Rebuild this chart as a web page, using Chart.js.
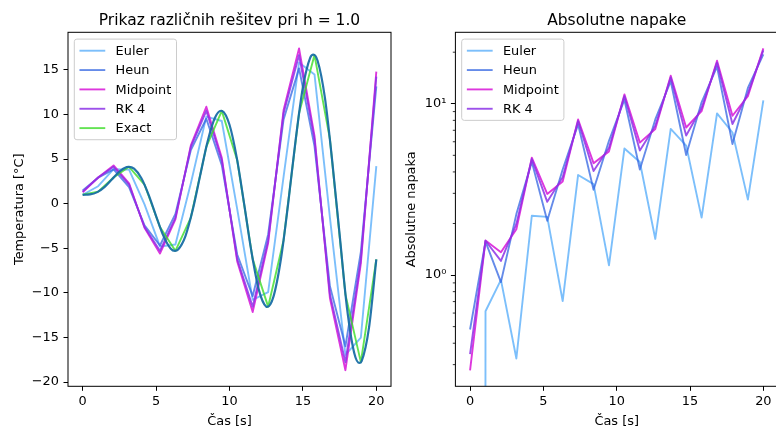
<!DOCTYPE html>
<html lang="sl">
<head>
<meta charset="utf-8">
<title>Primerjava metod za ODE</title>
<script src="https://cdn.jsdelivr.net/npm/chart.js"></script>
<style>
    html, body { margin: 0; padding: 0; background: #fff; overflow: hidden; }
    #wrap { position: relative; width: 776px; height: 429px; overflow: hidden; }
    #wrap canvas { position: absolute; top: 0; }
    #solChart { left: 0; }
    #errChart { left: 400px; }
</style>
</head>
<body>
<div id="wrap">
    <canvas id="solChart" width="400" height="429"></canvas>
    <canvas id="errChart" width="390" height="429"></canvas>
</div>

<script>
    // time grid of the numerical methods (h = 20/19)
    const t = [0, 1.053, 2.105, 3.158, 4.211, 5.263, 6.316, 7.368, 8.421, 9.474,
        10.526, 11.579, 12.632, 13.684, 14.737, 15.789, 16.842, 17.895, 18.947, 20];

    const euler = [1.00, 1.96, 3.87, 3.82, -0.07, -4.79, -4.57, 2.29, 9.76, 9.27,
        -0.61, -10.78, -9.91, 3.04, 15.84, 14.49, -1.58, -16.95, -15.00, 4.22];
    const heun = [1.48, 2.92, 3.84, 1.87, -2.43, -4.68, -1.14, 6.02, 9.52, 4.33,
        -5.69, -10.35, -3.44, 9.44, 15.17, 6.46, -9.26, -15.98, -5.39, 13.16];
    const midpoint = [1.28, 2.94, 4.29, 2.29, -2.69, -5.58, -1.76, 6.54, 10.87, 5.14,
        -6.47, -12.14, -4.42, 10.50, 17.41, 7.60, -10.61, -18.66, -6.68, 14.80];
    const rk4 = [1.35, 2.93, 4.14, 2.15, -2.61, -5.28, -1.56, 6.37, 10.42, 4.87,
        -6.21, -11.55, -4.09, 10.15, 16.66, 7.22, -10.16, -17.77, -6.25, 14.25];
    const exact = [1.00, 1.35, 2.93, 4.14, 2.15, -2.61, -5.28, -1.55, 6.37, 10.41,
        4.87, -6.21, -11.54, -4.09, 10.14, 16.66, 7.22, -10.16, -17.76, -6.25];

    // exact solution on a finer grid (smooth curve)
    const tFine = [0, 0.5, 1, 1.5, 2, 2.5, 3, 3.14, 3.5, 4, 4.5, 5, 5.5, 6, 6.28, 6.5, 7, 7.5,
        8, 8.5, 9, 9.42, 9.5, 10, 10.5, 11, 11.5, 12, 12.5, 12.57, 13, 13.5, 14, 14.5, 15,
        15.5, 15.71, 16, 16.5, 17, 17.5, 18, 18.5, 18.85, 19, 19.5, 20];
    const exactFine = [1.00, 1.04, 1.30, 1.89, 2.74, 3.60, 4.11, 4.14, 3.93, 2.86, 0.97, -1.38,
        -3.60, -5.04, -5.28, -5.13, -3.62, -0.66, 3.15, 6.92, 9.61, 10.42, 10.40, 8.85, 5.11,
        -0.05, -5.43, -9.66, -11.54, -11.57, -10.38, -6.23, 0.08, 7.08, 13.05, 16.37, 16.71,
        16.03, 11.87, 4.72, -3.44, -11.64, -16.75, -17.85, -17.64, -13.91, -6.25];

    // absolute errors
    const eulerErr = [0, 0.615, 0.937, 0.326, 2.219, 2.185, 0.705, 3.840, 3.395, 1.139,
        5.476, 4.568, 1.625, 7.127, 5.701, 2.165, 8.791, 6.795, 2.757, 10.466];
    const heunErr = [0.481, 1.569, 0.910, 2.269, 4.579, 2.076, 4.135, 7.578, 3.151, 6.080,
        10.563, 4.135, 8.101, 13.530, 5.024, 10.198, 16.478, 5.821, 12.367, 19.405];
    const midErr = [0.278, 1.593, 1.360, 1.851, 4.843, 2.976, 3.516, 8.094, 4.500, 5.273,
        11.343, 5.931, 7.119, 14.587, 7.268, 9.053, 17.822, 8.509, 11.075, 21.050];
    const rk4Err = [0.346, 1.585, 1.210, 1.990, 4.755, 2.676, 3.723, 7.922, 4.051, 5.542,
        11.083, 5.332, 7.446, 14.235, 6.520, 9.435, 17.374, 7.613, 11.505, 20.501];

    const xTicks = [0, 5, 10, 15, 20];
    const tempTicks = [-20, -15, -10, -5, 0, 5, 10, 15];
    const errTicks = [1, 10];
    const errTickLabels = ['10\u2070', '10\u00b9'];
    const errMinorTicks = [0.3, 0.4, 0.5, 0.6, 0.7, 0.8, 0.9, 2, 3, 4, 5, 6, 7, 8, 9, 20];

    const colors = {
        euler: 'rgba(80,170,250,0.75)',
        heun: 'rgba(50,100,225,0.75)',
        midpoint: 'rgba(215,20,215,0.85)',
        rk4: 'rgba(140,50,230,0.85)',
        exact: 'rgba(60,220,40,0.8)',
        fine: 'rgba(25,110,165,0.95)'
    };

    const FS = 12.9;
    const LW = 1.9;
    const font = { family: 'DejaVu Sans', size: FS };
    Chart.defaults.font.family = 'DejaVu Sans';
    Chart.defaults.color = '#000';

    const pts = (xs, ys) => xs.map((x, i) => ({ x: x, y: ys[i] }));
    // log axis: non-positive values are clipped to a tiny number
    const logPts = (xs, ys) => xs.map((x, i) => ({ x: x, y: ys[i] > 0 ? ys[i] : 1e-300 }));
    const minus = v => String(v).replace('-', '\u2212');

    function line(label, data, color, width) {
        return {
            label: label, data: data, borderColor: color, backgroundColor: color,
            borderWidth: width || LW, pointRadius: 0, tension: 0, fill: false, clip: 0,
            borderJoinStyle: 'round', borderCapStyle: 'butt'
        };
    }

    // frame around the axes, minor log ticks and a boxed legend in the upper left
    const frameLegend = {
        id: 'frameLegend',
        afterDatasetsDraw(chart, args, opts) {
            const { ctx, chartArea: a } = chart;
            ctx.save();
            if (opts.minor) {
                const ys = chart.scales.y;
                ctx.strokeStyle = '#000';
                ctx.lineWidth = 0.8;
                opts.minor.forEach(v => {
                    const py = ys.getPixelForValue(v);
                    ctx.beginPath();
                    ctx.moveTo(a.left - 2.6, py);
                    ctx.lineTo(a.left, py);
                    ctx.stroke();
                });
            }
            ctx.strokeStyle = '#000';
            ctx.lineWidth = 1;
            ctx.strokeRect(a.left, a.top, a.right - a.left, a.bottom - a.top);

            const items = chart.data.datasets.filter(d => d.label);
            ctx.font = FS + 'px "DejaVu Sans"';
            const textW = Math.max(...items.map(d => ctx.measureText(d.label).width));
            const pad = 0.4 * FS, handle = 2 * FS, gap = 0.8 * FS, row = 1.5 * FS;
            const x0 = a.left + 6.3, y0 = a.top + 6.8;
            const w = 2 * pad + handle + gap + textW;
            const h = 2 * pad + items.length * FS + (items.length - 1) * 0.5 * FS;
            ctx.beginPath();
            if (ctx.roundRect) ctx.roundRect(x0, y0, w, h, 0.2 * FS); else ctx.rect(x0, y0, w, h);
            ctx.fillStyle = 'rgba(255,255,255,0.8)';
            ctx.fill();
            ctx.strokeStyle = '#cccccc';
            ctx.lineWidth = 1;
            ctx.stroke();
            items.forEach((d, i) => {
                const cy = y0 + pad + FS / 2 + i * row;
                ctx.strokeStyle = d.borderColor;
                ctx.lineWidth = d.borderWidth;
                ctx.beginPath();
                ctx.moveTo(x0 + pad, cy);
                ctx.lineTo(x0 + pad + handle, cy);
                ctx.stroke();
                ctx.fillStyle = '#000';
                ctx.textBaseline = 'middle';
                ctx.fillText(d.label, x0 + pad + handle + gap, cy + 1);
            });
            ctx.restore();
        }
    };

    function xAxis() {
        return {
            type: 'linear', min: -1, max: 21,
            afterBuildTicks: s => { s.ticks = xTicks.map(v => ({ value: v })); },
            afterFit: s => { s.height = 42.7; },
            grid: { drawOnChartArea: false, drawTicks: true, tickLength: 4.5, tickColor: '#000', tickWidth: 1 },
            border: { display: false },
            ticks: { padding: 3, color: '#000', font: font, maxRotation: 0, autoSkip: false, callback: minus },
            title: { display: true, text: 'Čas [s]', color: '#000', font: font, padding: { top: 0, bottom: 0 } }
        };
    }

    function titleOpts(text) {
        return {
            display: true, text: text, color: '#000', fullSize: false,
            font: { family: 'DejaVu Sans', size: 15.5, weight: 'normal' },
            padding: { top: 11.2, bottom: 2.5 }
        };
    }

    const solSets = [
        line('Euler', pts(t, euler), colors.euler),
        line('Heun', pts(t, heun), colors.heun),
        line('Midpoint', pts(t, midpoint), colors.midpoint),
        line('RK 4', pts(t, rk4), colors.rk4),
        line('Exact', pts(t, exact), colors.exact),
        Object.assign(line('', pts(tFine, exactFine), colors.fine, 2.2), { cubicInterpolationMode: 'monotone' })
    ];
    solSets.forEach((d, i) => { d.order = solSets.length - i; });

    new Chart(document.getElementById('solChart'), {
        type: 'line',
        data: { datasets: solSets },
        options: {
            responsive: false, animation: false, events: [],
            layout: { padding: { left: 0, right: 9, top: 0, bottom: 0 } },
            plugins: {
                legend: { display: false },
                tooltip: { enabled: false },
                title: titleOpts('Prikaz različnih rešitev pri h = 1.0'),
                frameLegend: {}
            },
            scales: {
                x: xAxis(),
                y: {
                    type: 'linear', min: -20.467, max: 19.214,
                    afterBuildTicks: s => { s.ticks = tempTicks.map(v => ({ value: v })); },
                    afterFit: s => { s.width = 68; },
                    grid: { drawOnChartArea: false, drawTicks: true, tickLength: 4.5, tickColor: '#000', tickWidth: 1 },
                    border: { display: false },
                    ticks: { padding: 4.5, color: '#000', font: font, callback: minus },
                    title: { display: true, text: 'Temperatura [°C]', color: '#000', font: font, padding: { top: 12.3, bottom: 0 } }
                }
            }
        },
        plugins: [frameLegend]
    });

    const errSets = [
        line('Euler', logPts(t, eulerErr), colors.euler),
        line('Heun', logPts(t, heunErr), colors.heun),
        line('Midpoint', logPts(t, midErr), colors.midpoint),
        line('RK 4', logPts(t, rk4Err), colors.rk4)
    ];
    errSets.forEach((d, i) => { d.order = errSets.length - i; });

    new Chart(document.getElementById('errChart'), {
        type: 'line',
        data: { datasets: errSets },
        options: {
            responsive: false, animation: false, events: [],
            layout: { padding: { left: 0, right: 12, top: 0, bottom: 0 } },
            plugins: {
                legend: { display: false },
                tooltip: { enabled: false },
                title: titleOpts('Absolutne napake'),
                frameLegend: { minor: errMinorTicks }
            },
            scales: {
                x: xAxis(),
                y: {
                    type: 'logarithmic', min: 0.2242, max: 26.13,
                    afterBuildTicks: s => { s.ticks = errTicks.map(v => ({ value: v, major: true })); },
                    afterFit: s => { s.width = 55.4; },
                    grid: { drawOnChartArea: false, drawTicks: true, tickLength: 4.5, tickColor: '#000', tickWidth: 1 },
                    border: { display: false },
                    ticks: { padding: 4.5, color: '#000', font: font, callback: (v, i) => errTickLabels[i] },
                    title: { display: true, text: 'Absolutne napaka', color: '#000', font: font, padding: { top: 3.8, bottom: 0 } }
                }
            }
        },
        plugins: [frameLegend]
    });
</script>
</body>
</html>
